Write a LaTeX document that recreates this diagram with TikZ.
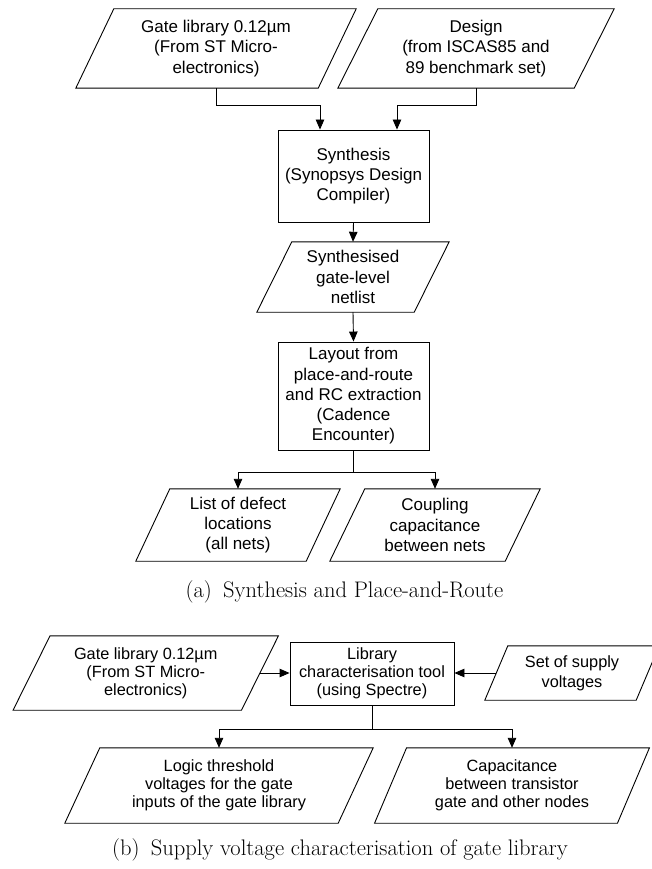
\documentclass[tikz,border=0pt]{standalone}
\usepackage{fontspec}
\newfontfamily\arial{Liberation Sans}
\usetikzlibrary{arrows.meta,calc}
\tikzset{
  ln/.style={line width=0.9pt, draw=black},
  arr/.style={ln, -{Triangle[length=10pt,width=8.5pt]}},
  txa/.style={font=\arial\fontsize{17}{20.3}\selectfont, align=center, inner sep=0pt, shape=rectangle},
  txb/.style={font=\arial\fontsize{16.3}{18}\selectfont, align=center, inner sep=0pt, shape=rectangle},
  boxa/.style={txa, draw=black, line width=0.9pt},
  boxb/.style={txb, draw=black, line width=0.9pt},
  captxt/.style={font=\fontsize{22.5}{27}\selectfont, inner sep=0pt}
}
\newcommand\drawpara[2]{\draw[ln] ([xshift=#2]#1.north west) -- ([xshift=#2]#1.north east) -- ([xshift=-#2]#1.south east) -- ([xshift=-#2]#1.south west) -- cycle;}
\begin{document}
\begin{tikzpicture}[x=1pt,y=-1pt]
\useasboundingbox (0,0) rectangle (652,869);
% ---------- (a)
\node[txa, minimum width=242pt, minimum height=79pt] (gla) at (216,48.5) {Gate library 0.12µm\\(From ST Micro-\\electronics)};
\drawpara{gla}{19pt}
\node[txa, minimum width=236pt, minimum height=79pt] (des) at (476,48.5) {Design\\(from ISCAS85 and\\89 benchmark set)};
\drawpara{des}{20pt}
\node[boxa, minimum width=151pt, minimum height=92pt] (syn) at (353.5,176) {Synthesis\\(Synopsys Design\\Compiler)};
\node[txa, minimum width=157pt, minimum height=70pt] (net) at (353,277) {Synthesised\\gate-level\\netlist};
\drawpara{net}{17.5pt}
\node[boxa, minimum width=151pt, minimum height=108pt] (lay) at (353.5,396) {Layout from\\place-and-route\\and RC extraction\\(Cadence\\Encounter)};
\node[txa, minimum width=170pt, minimum height=72pt] (lst) at (238,525) {List of defect\\locations\\(all nets)};
\drawpara{lst}{17pt}
\node[txa, minimum width=175pt, minimum height=72pt] (cpl) at (435,525) {Coupling\\capacitance\\between nets};
\drawpara{cpl}{17.5pt}
\node[captxt] (capa) at (344.5,592) {(a)\enspace Synthesis and Place-and-Route};

\draw[arr] (gla.south) -- ++(0,17) -| ([xshift=-33.5pt]syn.north);
\draw[arr] (des.south) -- ++(0,17) -| ([xshift=43.5pt]syn.north);
\draw[arr] (syn.south) -- (net.north);
\draw[arr] (net.south) -- (lay.north);
\draw[ln] (lay.south) -- ++(0,22) coordinate (bra);
\draw[arr] (bra) -| (lst.north);
\draw[arr] (bra) -| (cpl.north);

% ---------- (b)
\node[txb, minimum width=228pt, minimum height=74pt] (glb) at (145.75,673) {Gate library 0.12µm\\(From ST Micro-\\electronics)};
\drawpara{glb}{18.5pt}
\node[boxb, minimum width=164pt, minimum height=63pt] (lib) at (372,673.5) {Library\\characterisation tool\\(using Spectre)};
\node[txb, font=\arial\fontsize{16.3}{20}\selectfont, minimum width=151pt, minimum height=54pt] (sup) at (572,673) {Set of supply\\voltages};
\drawpara{sup}{11.5pt}
\node[txb, minimum width=273pt, minimum height=75pt] (log) at (219,785.5) {Logic threshold\\voltages for the gate\\inputs of the gate library};
\drawpara{log}{17.5pt}
\node[txb, minimum width=242.5pt, minimum height=75pt] (cpb) at (512,785.5) {Capacitance\\between transistor\\gate and other nodes};
\drawpara{cpb}{16pt}
\node[captxt] (capb) at (340,850) {(b)\enspace Supply voltage characterisation of gate library};

\draw[arr] (glb.east) -- (lib.west |- glb.east);
\draw[arr] (sup.west) -- (lib.east |- sup.west);
\draw[ln] (lib.south) -- ++(0,23.5) coordinate (brb);
\draw[arr] (brb) -| (log.north);
\draw[arr] (brb) -| (cpb.north);
\end{tikzpicture}
\end{document}
